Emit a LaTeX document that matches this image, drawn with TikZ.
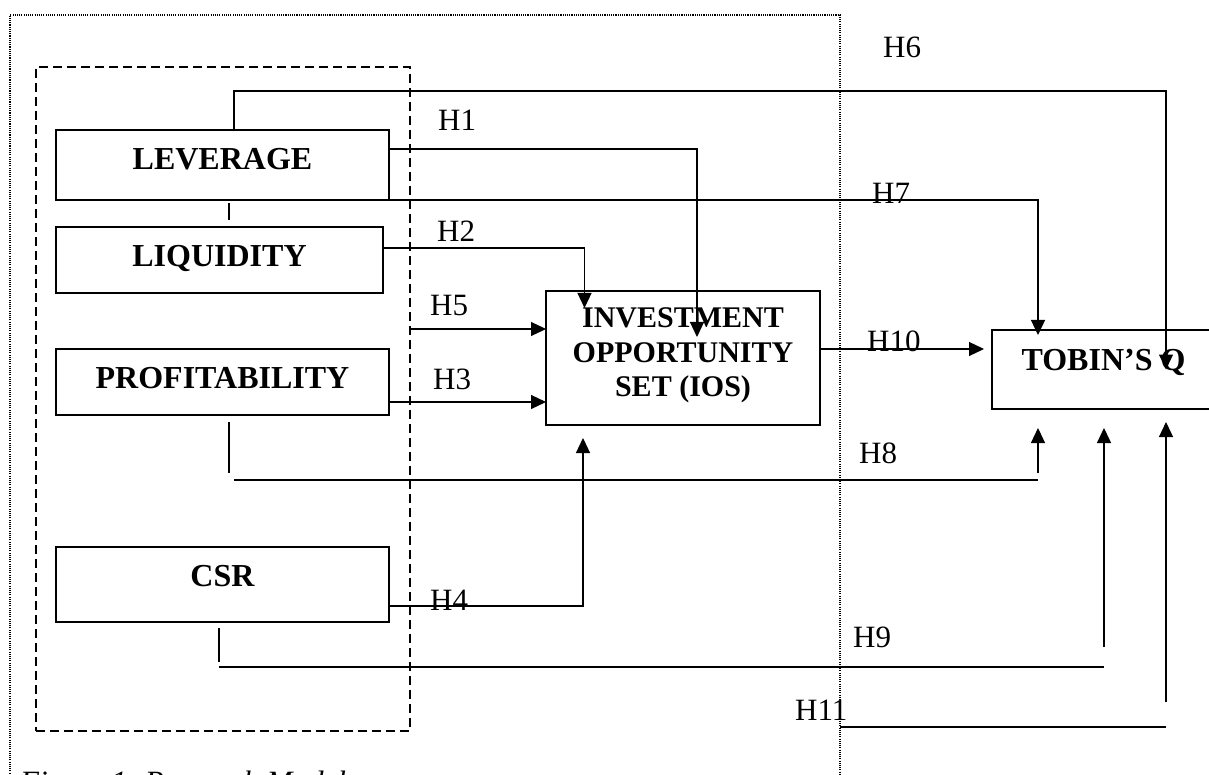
\documentclass[tikz,border=0pt]{standalone}
\usepackage{fontspec}
\setmainfont{Liberation Serif}
\usetikzlibrary{arrows.meta}
\begin{document}
\begin{tikzpicture}[x=1pt,y=-1pt,
  box/.style={draw,line width=1.4pt,inner sep=0pt,outer sep=0pt,font=\fontsize{32}{38}\selectfont\bfseries},
  con/.style={line width=1.2pt},
  arr/.style={con,-{Triangle[length=15pt,width=14pt]}},
  hyp/.style={anchor=base west,inner sep=0pt,font=\fontsize{31}{36}\selectfont},
  grpbox/.style={draw,line width=1.3pt,dash pattern=on 9pt off 5pt,inner sep=0pt,outer sep=0pt},
  framebox/.style={draw,line width=1.2pt,dash pattern=on 1.1pt off 1.1pt}
]
\useasboundingbox (0,0) rectangle (1209,775);
\clip (0,0) rectangle (1209,775);
\fill[white] (0,0) rectangle (1209,775);

% outer dotted frame
\draw[framebox] (10,800) -- (10,15) -- (840,15) -- (840,800);

% dashed group
\node[grpbox,minimum width=374pt,minimum height=664pt] (grp) at (223,399) {};

% boxes
\node[box,minimum width=333pt,minimum height=70pt,text height=20pt,text depth=10.8pt] (lev) at (222.5,165) {LEVERAGE};
\node[box,minimum width=327pt,minimum height=66pt,text height=22pt,text depth=8.8pt] (liq) at (219.5,260) {LIQUIDITY};
\node[box,minimum width=333pt,minimum height=66pt,text height=22pt,text depth=8.8pt] (pro) at (222.5,382) {PROFITABILITY};
\node[box,minimum width=333pt,minimum height=75pt,text height=20pt,text depth=15.8pt] (csr) at (222.5,584.5) {CSR};
\node[box,minimum width=274pt,minimum height=134pt,align=center,font=\fontsize{30}{34.5}\selectfont\bfseries] (ios) at (683,358) {\rule{0pt}{22pt}INVESTMENT\\OPPORTUNITY\\SET (IOS)\rule[-13.2pt]{0pt}{0pt}};
\node[box,minimum width=223pt,minimum height=79pt,text height=20pt,text depth=17.8pt] (tob) at (1103.5,369.5) {TOBIN’S Q};

% H6
\draw[arr] ([xshift=11.5pt]lev.north) -- ++(0,-39) -| ([xshift=62.5pt]tob.center);
% H1
\draw[arr] ([yshift=16pt]lev.east) -| ([xshift=14pt,yshift=21pt]ios.center);
% H7
\draw[arr] ([xshift=6.5pt]lev.south) -| ([xshift=-65.5pt,yshift=-5pt]tob.north);
% tick between leverage and liquidity
\draw[con] ([xshift=6.5pt,yshift=-3pt]lev.south) -- ([xshift=9.5pt,yshift=7pt]liq.north);
% H2
\draw[arr] ([yshift=12pt]liq.east) -| ([xshift=-98.5pt,yshift=-17pt]ios.north);
% H5
\coordinate (h5e) at ([yshift=29pt]ios.west);
\draw[arr] (grp.east |- h5e) -- (h5e);
% H3
\coordinate (h3s) at ([yshift=-20pt]pro.east);
\draw[arr] (h3s) -- (h3s -| ios.west);
% H4
\draw[arr] ([yshift=-21.5pt]csr.east) -| ([xshift=-100pt,yshift=-13pt]ios.south);
% H10
\coordinate (h10s) at ([yshift=9pt]ios.east);
\draw[arr,shorten >=8pt] (h10s) -- (h10s -| tob.west);
% H8
\draw[con] ([xshift=6.5pt,yshift=-7pt]pro.south) -- ++(0,51);
\coordinate (h8a) at ([xshift=11.5pt,yshift=-65pt]pro.south);
\path ([xshift=-65.5pt]tob.south) coordinate (t8);
\draw[con] (h8a) -- (t8 |- h8a);
\draw[arr] ([yshift=-64pt]t8) -- ([yshift=-19pt]t8);
% H9
\draw[con] ([xshift=-3.5pt,yshift=-6pt]csr.south) -- ++(0,34);
\coordinate (h9a) at ([xshift=-3.5pt,yshift=-45pt]csr.south);
\path ([xshift=0.5pt]tob.south) coordinate (t9);
\draw[con] (h9a) -- (t9 |- h9a);
\draw[arr] ([yshift=-238pt]t9) -- ([yshift=-19pt]t9);
% H11
\path ([xshift=62.5pt]tob.south) coordinate (t11);
\coordinate (h11a) at (840,727);
\draw[con] (h11a) -- (t11 |- h11a);
\draw[arr] ([yshift=-293pt]t11) -- ([yshift=-13pt]t11);

% labels
\node[hyp] (h1) at (438,131) {H1};
\node[hyp] (h2) at (437,242) {H2};
\node[hyp] (h5) at (430,316) {H5};
\node[hyp] (h3) at (433,389) {H3};
\node[hyp] (h4) at (430,610) {H4};
\node[hyp] (h6) at (883,58) {H6};
\node[hyp] (h7) at (872,204) {H7};
\node[hyp] (h10) at (867,352) {H10};
\node[hyp] (h8) at (859,463) {H8};
\node[hyp] (h9) at (853,647) {H9};
\node[hyp] (h11) at (795,720) {H11};

% caption (cut off at the bottom edge, as in the reference)
\node[anchor=base west,inner sep=0pt,font=\fontsize{31}{36}\selectfont\itshape] (cap) at (20,792) {Figure 1. Research Model};
\end{tikzpicture}
\end{document}
